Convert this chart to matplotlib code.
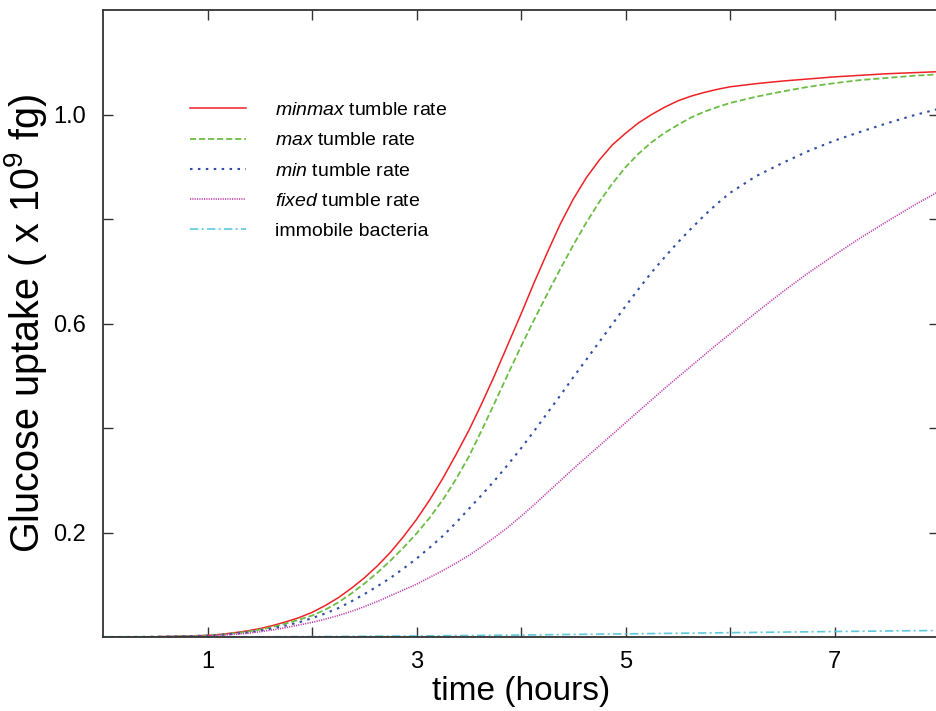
import matplotlib
matplotlib.use('Agg')
from matplotlib import pyplot as plt
from matplotlib.ticker import FixedLocator, NullFormatter

# time (hours) and glucose uptake (x 10^9 fg)
hours = [0, 0.25, 0.5, 0.75,
         1, 1.125, 1.25, 1.375, 1.5, 1.625, 1.75, 1.875,
         2, 2.125, 2.25, 2.375, 2.5, 2.625, 2.75, 2.875,
         3, 3.125, 3.25, 3.375, 3.5, 3.625, 3.75, 3.875,
         4, 4.125, 4.25, 4.375, 4.5, 4.625, 4.75, 4.875,
         5, 5.125, 5.25, 5.375, 5.5, 5.625, 5.75, 5.875,
         6, 6.25, 6.5, 6.75, 7, 7.25, 7.5, 7.75, 8]
minmax_rate = [0, 0.0001, 0.0005, 0.0015,
               0.003, 0.005, 0.008, 0.0115, 0.016, 0.022, 0.029, 0.037,
               0.047, 0.060, 0.075, 0.093, 0.113, 0.136, 0.162, 0.192,
               0.225, 0.262, 0.303, 0.348, 0.395, 0.447, 0.502, 0.560,
               0.618, 0.678, 0.735, 0.790, 0.838, 0.879, 0.913, 0.942,
               0.964, 0.984, 1.000, 1.014, 1.026, 1.035, 1.042, 1.048,
               1.053, 1.059, 1.064, 1.068, 1.072, 1.075, 1.078, 1.080, 1.082]
max_rate = [0, 0.0001, 0.0005, 0.0015,
            0.003, 0.0045, 0.007, 0.010, 0.014, 0.019, 0.026, 0.033,
            0.041, 0.052, 0.066, 0.083, 0.102, 0.123, 0.146, 0.171,
            0.198, 0.228, 0.262, 0.301, 0.345, 0.396, 0.449, 0.503,
            0.556, 0.607, 0.656, 0.704, 0.750, 0.793, 0.833, 0.868,
            0.899, 0.925, 0.947, 0.965, 0.980, 0.994, 1.005, 1.014,
            1.022, 1.034, 1.044, 1.053, 1.060, 1.066, 1.070, 1.074, 1.077]
min_rate = [0, 0.0001, 0.0004, 0.0012,
            0.0025, 0.004, 0.006, 0.0085, 0.012, 0.0165, 0.022, 0.028,
            0.036, 0.045, 0.055, 0.068, 0.082, 0.097, 0.113, 0.131,
            0.150, 0.171, 0.193, 0.218, 0.245, 0.272, 0.300, 0.330,
            0.361, 0.394, 0.428, 0.462, 0.497, 0.531, 0.565, 0.599,
            0.633, 0.666, 0.698, 0.727, 0.755, 0.781, 0.806, 0.829,
            0.850, 0.882, 0.907, 0.930, 0.950, 0.967, 0.983, 0.998, 1.011]
fixed_rate = [0, 0.0001, 0.0003, 0.001,
              0.002, 0.0033, 0.005, 0.007, 0.010, 0.0135, 0.018, 0.023,
              0.028, 0.034, 0.041, 0.049, 0.058, 0.068, 0.079, 0.090,
              0.101, 0.114, 0.127, 0.141, 0.156, 0.173, 0.191, 0.210,
              0.231, 0.253, 0.276, 0.299, 0.322, 0.344, 0.366, 0.388,
              0.410, 0.432, 0.454, 0.476, 0.497, 0.518, 0.539, 0.560,
              0.580, 0.621, 0.660, 0.697, 0.731, 0.764, 0.795, 0.825, 0.853]
immobile_hours = [0, 1, 2, 3, 4, 5, 6, 7, 8]
immobile = [0, 0, 0.0008, 0.002, 0.0038, 0.006, 0.0083, 0.0105, 0.0125]

plt.rcParams['font.family'] = ['Liberation Sans', 'DejaVu Sans']
plt.rcParams['mathtext.fontset'] = 'custom'
plt.rcParams['mathtext.rm'] = 'Liberation Sans'
plt.rcParams['mathtext.it'] = 'Liberation Sans:italic'

fig = plt.figure(figsize=(9.36, 7.11), dpi=100)
ax = fig.add_axes([103 / 936, 74 / 711, 836 / 936, 627 / 711])

ax.plot(hours, minmax_rate, color='#ee2226', lw=1.1,
        label=r'$\mathit{minmax}$ tumble rate')
ax.plot(hours, max_rate, color='#6cbd45', lw=1.3, ls=(0, (3.4, 1.6)),
        label=r'$\mathit{max}$ tumble rate')
ax.plot(hours, min_rate, color='#2f4ea5', lw=1.5, ls=(0, (1.2, 2.6)),
        label=r'$\mathit{min}$ tumble rate')
ax.plot(hours, fixed_rate, color='#c040ad', lw=1.2, ls=(0, (0.7, 0.7)),
        label=r'$\mathit{fixed}$ tumble rate')
ax.plot(immobile_hours, immobile, color='#5cc9dc', lw=1.2,
        ls=(0, (5, 2, 1.2, 2)), label='immobile bacteria')

ax.set_xlim(0, 8)
ax.set_ylim(0, 1.2)

ax.xaxis.set_major_locator(FixedLocator([1, 3, 5, 7]))
ax.xaxis.set_minor_locator(FixedLocator([2, 4, 6]))
ax.yaxis.set_major_locator(FixedLocator([0.2, 0.6, 1.0]))
ax.yaxis.set_minor_locator(FixedLocator([0.4, 0.8]))
ax.xaxis.set_minor_formatter(NullFormatter())
ax.yaxis.set_minor_formatter(NullFormatter())
ax.set_yticklabels(['0.2', '0.6', '1.0'])

for which in ('major', 'minor'):
    ax.tick_params(axis='both', which=which, direction='in', length=7.5,
                   width=1.0, color='#333333', top=True, right=True)
ax.tick_params(axis='x', which='major', labelsize=17, pad=10)
ax.tick_params(axis='y', which='major', labelsize=17, pad=12)

for spine in ax.spines.values():
    spine.set_color('#333333')
    spine.set_linewidth(1.3)

ax.set_xlabel('time (hours)', fontsize=24)
ax.set_ylabel(r'Glucose uptake ( x 10$^{9}$ fg)', fontsize=28.5)
ax.xaxis.set_label_coords(0.5, -0.062)
ax.yaxis.set_label_coords(-0.065, 0.5)

ax.legend(loc='upper left', bbox_to_anchor=(0.104, 0.854), frameon=False,
          fontsize=14, handlelength=2.9, handletextpad=1.45, labelspacing=0.65,
          borderpad=0, borderaxespad=0)

fig.savefig('out.png', dpi=100)
